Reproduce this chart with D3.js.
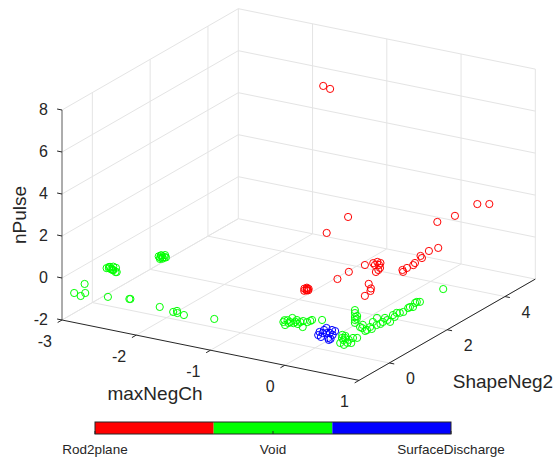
<!DOCTYPE html>
<html>
<head>
<meta charset="utf-8">
<script src="https://cdn.jsdelivr.net/npm/d3@7"></script>
<style>
  html, body { margin: 0; padding: 0; background: #fff; }
  svg { display: block; font-family: "Liberation Sans", Arial, sans-serif; }
</style>
</head>
<body>
<svg id="chart" width="557" height="464"></svg>
<script>
// Classes shown in the colour bar, in order
const categories = ["Rod2plane", "Void", "SurfaceDischarge"];
const classColors = ["#ff0000", "#00ff00", "#0000ff"];

// Axis ticks
const xTicks = [-3, -2, -1, 0, 1];
const yTicks = [0, 2, 4];
const zTicks = [-2, 0, 2, 4, 6, 8];

// Observations as [maxNegCh, ShapeNeg2, nPulse]
const rod2plane = [
  [-1.00, 2.85, 7.5], [-0.88, 2.78, 7.5],
  [-0.12, 1.45, 3.0], [-0.42, 1.48, 2.0],
  [0.76, 3.66, 2.5], [0.77, 4.05, 2.2], [0.56, 3.40, 2.0], [0.49, 2.97, 2.0],
  [0.44, 3.13, 0.6], [0.40, 2.91, 0.6], [0.38, 2.72, 0.4], [0.33, 2.80, 0.4],
  [0.36, 2.53, 0.3], [0.38, 2.42, 0.3], [0.33, 2.33, 0.2], [0.32, 2.20, 0.2], [0.36, 2.12, 0.2],
  [-0.03, 1.80, 0.5], [0.02, 1.96, 0.5], [0.04, 2.05, 0.5], [0.09, 2.03, 0.5], [0.07, 1.89, 0.5],
  [0.11, 1.93, 0.5], [0.17, 1.81, 0.5], [0.20, 1.59, 0.5], [0.19, 1.70, 0.5],
  [-0.18, 1.63, 0.2], [-0.17, 1.21, 0.2],
  [0.08, 1.65, -0.2], [0.22, 1.35, -0.2], [0.25, 1.08, -0.2], [0.20, 1.42, -0.15],
  [-0.36, 0.63, 0.0], [-0.34, 0.65, 0.05], [-0.38, 0.60, -0.03], [-0.35, 0.62, 0.08],
  [-0.37, 0.66, -0.05], [-0.33, 0.61, 0.02], [-0.36, 0.64, 0.1], [-0.39, 0.63, 0.04]
];

const voidPts = [
  [-2.80, -0.02, -0.2], [-2.77, 0.02, -0.15], [-2.74, -0.02, -0.2], [-2.72, 0.00, -0.25],
  [-2.70, -0.05, -0.2], [-2.76, -0.04, -0.1], [-2.68, -0.02, -0.3], [-2.73, 0.03, -0.12],
  [-2.66, -0.03, -0.28], [-2.71, -0.06, -0.18], [-2.78, 0.01, -0.22], [-2.69, 0.02, -0.14],
  [-2.34, 0.60, 0.2], [-2.31, 0.62, 0.25], [-2.28, 0.58, 0.15], [-2.26, 0.60, 0.22],
  [-2.30, 0.57, 0.3], [-2.33, 0.63, 0.12], [-2.29, 0.61, 0.18], [-2.27, 0.64, 0.28],
  [-2.32, 0.59, 0.1], [-2.25, 0.62, 0.2],
  [-2.89, -0.55, -0.6], [-2.91, -0.86, -0.8], [-2.83, -0.84, -0.9], [-2.80, -0.76, -0.8],
  [-2.58, -0.54, -1.0], [-2.33, -0.44, -1.0], [-2.32, -0.43, -1.0], [-1.89, -0.52, -1.0],
  [-1.67, -0.62, -1.0], [-1.65, -0.54, -1.0], [-1.61, -0.63, -1.0], [-1.51, -0.66, -1.0],
  [-1.14, -0.56, -1.0],
  [-0.40, -0.07, -1.0], [-0.39, 0.05, -1.0], [-0.33, -0.07, -1.0], [-0.33, -0.01, -1.0],
  [-0.38, 0.19, -1.0], [-0.28, -0.03, -1.0], [-0.28, 0.04, -1.0], [-0.30, 0.14, -1.0],
  [-0.33, -0.19, -1.0], [-0.12, -0.12, -1.0], [-0.22, 0.15, -1.0], [-0.16, 0.14, -1.0],
  [-0.15, 0.22, -1.0], [-0.15, 0.28, -1.0], [-0.05, 0.37, -1.0], [-0.42, 0.02, -1.0],
  [-0.22, -0.03, -1.0], [-0.23, 0.08, -1.0],
  [0.30, 0.17, -1.3], [0.40, -0.05, -1.3], [0.49, -0.14, -1.3], [0.42, -0.21, -1.3],
  [0.46, 0.13, -1.3], [0.50, 0.17, -1.3], [0.45, 0.01, -1.3], [0.35, 0.15, -1.3],
  [0.49, -0.26, -1.3], [0.53, -0.11, -1.3], [0.35, 0.03, -1.3], [0.38, 0.06, -1.3],
  [0.40, 0.35, -0.19], [0.40, 0.35, -0.33], [0.40, 0.35, -0.52], [0.40, 0.35, -0.66],
  [0.40, 0.35, -0.80], [0.43, 0.35, -0.45], [0.42, 0.36, -0.6],
  [0.45, 0.40, -1.0], [0.49, 0.37, -1.0], [0.44, 0.52, -1.0], [0.57, 0.27, -1.0],
  [0.57, 0.33, -1.0], [0.55, 0.49, -1.0], [0.60, 0.42, -1.0], [0.49, 0.74, -1.0],
  [0.46, 0.96, -1.0], [0.58, 0.64, -1.0], [0.60, 0.72, -1.0], [0.59, 0.83, -1.0],
  [0.54, 1.03, -1.0], [0.60, 0.96, -1.0], [0.66, 0.90, -1.0], [0.57, 1.23, -1.0],
  [0.62, 1.16, -1.0], [0.57, 1.36, -1.0], [0.60, 1.39, -1.0], [0.62, 1.46, -1.0],
  [0.60, 1.68, -1.0], [0.60, 1.74, -1.0], [0.63, 1.77, -1.0], [0.58, 1.97, -1.0],
  [0.58, 2.03, -1.0], [0.61, 2.06, -1.0],
  [0.62, 2.84, -1.0]
];

const surfaceDischarge = [
  [0.06, 0.00, -1.2], [0.10, -0.15, -1.2], [0.11, -0.02, -1.2], [0.06, 0.24, -1.2],
  [0.15, 0.20, -1.2], [0.24, -0.01, -1.2], [0.25, -0.19, -1.2], [0.29, -0.27, -1.2],
  [0.07, 0.13, -1.2], [0.18, 0.05, -1.2], [0.20, 0.18, -1.2], [0.16, -0.21, -1.2],
  [0.29, -0.21, -1.2], [0.15, 0.02, -1.2]
];

const series = [rod2plane, voidPts, surfaceDischarge];

// ---- 3-D box projected with MATLAB's default view (az -37.5, el 30) ----
const xDom = [-3, 1], yDom = [-1.05, 5.05], zDom = [-2, 8];
const xs = d3.scaleLinear().domain(xDom).range([0, 1]);
const ys = d3.scaleLinear().domain(yDom).range([0, 1]);
const zs = d3.scaleLinear().domain(zDom).range([0, 1]);

const origin = [62, 320];      // front-left-bottom corner
const ex = [297, 60.4];        // screen vector spanning the x range
const ey = [176.3, -101.3];    // screen vector spanning the y range
const ez = [0, -210];          // screen vector spanning the z range

function project(x, y, z) {
  const a = xs(x), b = ys(y), c = zs(z);
  return [origin[0] + a * ex[0] + b * ey[0] + c * ez[0],
          origin[1] + a * ex[1] + b * ey[1] + c * ez[1]];
}
function unit(v) { const l = Math.hypot(v[0], v[1]); return [v[0] / l, v[1] / l]; }

const svg = d3.select("#chart");
const ink = "#262626";
const gridColor = "#e4e4e4";

const line = d3.line();
const g = svg.append("g");

// Grid on the floor and the two back walls
const grid = g.append("g").attr("fill", "none").attr("stroke", gridColor).attr("stroke-width", 1);
const [x0, x1] = xDom, [y0, y1] = yDom, [z0, z1] = zDom;
const segs = [];
xTicks.forEach(x => {
  segs.push([project(x, y0, z0), project(x, y1, z0)]);   // floor
  segs.push([project(x, y1, z0), project(x, y1, z1)]);   // back wall y = max
});
yTicks.forEach(y => {
  segs.push([project(x0, y, z0), project(x1, y, z0)]);   // floor
  segs.push([project(x0, y, z0), project(x0, y, z1)]);   // side wall x = min
});
zTicks.forEach(z => {
  segs.push([project(x0, y0, z), project(x0, y1, z)]);   // side wall
  segs.push([project(x0, y1, z), project(x1, y1, z)]);   // back wall
});
grid.selectAll("path").data(segs).join("path").attr("d", d => line(d));

// Axis lines
const axes = g.append("g").attr("fill", "none").attr("stroke-width", 1);
axes.append("path").attr("stroke", "#5a5a5a").attr("d", line([project(x0, y0, z0), project(x0, y0, z1)]));
axes.append("path").attr("stroke", ink).attr("d", line([project(x0, y0, z0), project(x1, y0, z0)]));
axes.append("path").attr("stroke", ink).attr("d", line([project(x1, y0, z0), project(x1, y1, z0)]));

const tickLen = 5;
const dxOut = unit([-ey[0], -ey[1]]);   // x ticks point away from the y axis
const dyOut = unit(ex);                  // y ticks point along +x
const dzOut = unit([-ex[0], -ex[1]]);    // z ticks point along -x

const tickFont = 16;
xTicks.forEach(x => {
  const p = project(x, y0, z0);
  axes.append("path").attr("stroke", ink)
    .attr("d", line([p, [p[0] + dxOut[0] * tickLen, p[1] + dxOut[1] * tickLen]]));
  g.append("text").attr("x", p[0] - 10).attr("y", p[1] + 21)
    .attr("text-anchor", "end").attr("dominant-baseline", "central")
    .attr("font-size", tickFont).attr("fill", ink).text(x);
});
yTicks.forEach(y => {
  const p = project(x1, y, z0);
  axes.append("path").attr("stroke", ink)
    .attr("d", line([p, [p[0] + dyOut[0] * tickLen, p[1] + dyOut[1] * tickLen]]));
  g.append("text").attr("x", p[0] + 21).attr("y", p[1] + 16)
    .attr("text-anchor", "middle").attr("dominant-baseline", "central")
    .attr("font-size", tickFont).attr("fill", ink).text(y);
});
zTicks.forEach(z => {
  const p = project(x0, y0, z);
  axes.append("path").attr("stroke", ink)
    .attr("d", line([p, [p[0] + dzOut[0] * tickLen, p[1] + dzOut[1] * tickLen]]));
  g.append("text").attr("x", p[0] - 14).attr("y", p[1] - 1)
    .attr("text-anchor", "end").attr("dominant-baseline", "central")
    .attr("font-size", tickFont).attr("fill", ink).text(z);
});

// Axis titles
const labelFont = 19;
g.append("text").attr("x", 155).attr("y", 400).attr("text-anchor", "middle")
  .attr("font-size", labelFont).attr("fill", ink).text("maxNegCh");
g.append("text").attr("x", 503).attr("y", 388).attr("text-anchor", "middle")
  .attr("font-size", labelFont).attr("fill", ink).text("ShapeNeg2");
g.append("text").attr("transform", "translate(26,215) rotate(-90)").attr("text-anchor", "middle")
  .attr("font-size", labelFont).attr("fill", ink).text("nPulse");

// Scatter markers (open circles)
const marks = g.append("g").attr("fill", "none").attr("stroke-width", 1);
series.forEach((pts, i) => {
  marks.append("g").attr("stroke", classColors[i])
    .selectAll("circle").data(pts).join("circle")
    .attr("cx", d => project(d[0], d[1], d[2])[0])
    .attr("cy", d => project(d[0], d[1], d[2])[1])
    .attr("r", 3.6);
});

// Colour bar
const cbLeft = 95, cbRight = 451, cbTop = 422, cbH = 12;
const band = d3.scaleBand().domain(categories).range([cbLeft, cbRight]);
const pos = d3.scalePoint().domain(categories).range([cbLeft, cbRight]);
const cb = svg.append("g");
cb.selectAll("rect.seg").data(categories).join("rect").attr("class", "seg")
  .attr("x", d => band(d)).attr("y", cbTop).attr("width", band.bandwidth()).attr("height", cbH)
  .attr("fill", (d, i) => classColors[i]);
cb.append("rect").attr("x", cbLeft).attr("y", cbTop).attr("width", cbRight - cbLeft).attr("height", cbH)
  .attr("fill", "none").attr("stroke", ink).attr("stroke-width", 1);
cb.selectAll("path.tick").data(categories).join("path").attr("class", "tick")
  .attr("stroke", ink).attr("d", d => line([[pos(d), cbTop + cbH], [pos(d), cbTop + cbH - 3]]));
cb.selectAll("text").data(categories).join("text")
  .attr("x", d => pos(d)).attr("y", 454).attr("text-anchor", "middle")
  .attr("font-size", 13.5).attr("fill", ink).text(d => d);
</script>
</body>
</html>
